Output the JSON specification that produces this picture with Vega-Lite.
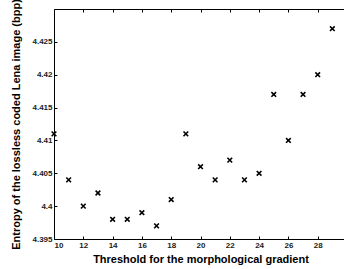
{
  "$schema": "https://vega.github.io/schema/vega-lite/v6.json",
  "autosize": "none",
  "width": 293,
  "height": 230,
  "padding": {"left": 54, "top": 9, "right": 0, "bottom": 30},
  "background": "white",
  "config": {
    "view": {"stroke": null},
    "axis": {
      "domainColor": "black",
      "domainWidth": 1,
      "tickColor": "black",
      "grid": false,
      "labelFont": "Liberation Sans",
      "labelFontSize": 8,
      "labelFontWeight": "bold",
      "labelColor": "#222",
      "titleFont": "Liberation Sans",
      "titleFontSize": 11,
      "titleFontWeight": "bold",
      "titleColor": "black"
    }
  },
  "data": {
    "values": [
      {"threshold": 10, "entropy": 4.411},
      {"threshold": 11, "entropy": 4.404},
      {"threshold": 12, "entropy": 4.400},
      {"threshold": 13, "entropy": 4.402},
      {"threshold": 14, "entropy": 4.398},
      {"threshold": 15, "entropy": 4.398},
      {"threshold": 16, "entropy": 4.399},
      {"threshold": 17, "entropy": 4.397},
      {"threshold": 18, "entropy": 4.401},
      {"threshold": 19, "entropy": 4.411},
      {"threshold": 20, "entropy": 4.406},
      {"threshold": 21, "entropy": 4.404},
      {"threshold": 22, "entropy": 4.407},
      {"threshold": 23, "entropy": 4.404},
      {"threshold": 24, "entropy": 4.405},
      {"threshold": 25, "entropy": 4.417},
      {"threshold": 26, "entropy": 4.410},
      {"threshold": 27, "entropy": 4.417},
      {"threshold": 28, "entropy": 4.420},
      {"threshold": 29, "entropy": 4.427}
    ]
  },
  "layer": [
    {
      "mark": {"type": "point", "shape": "M-1,-1L1,1M-1,1L1,-1", "size": 22, "filled": false, "stroke": "black", "strokeWidth": 1.6, "opacity": 1},
      "encoding": {
        "x": {
          "field": "threshold", "type": "quantitative",
          "scale": {"domain": [10, 30], "nice": false, "zero": false},
          "axis": {"orient": "bottom", "values": [10,12,14,16,18,20,22,24,26,28], "tickSize": -3, "labelPadding": 5, "title": "Threshold for the morphological gradient", "titlePadding": 4}
        },
        "y": {
          "field": "entropy", "type": "quantitative",
          "scale": {"domain": [4.395, 4.43], "nice": false, "zero": false},
          "axis": {"orient": "left", "values": [4.395, 4.4, 4.405, 4.41, 4.415, 4.42, 4.425], "format": "~g", "tickSize": -3, "labelPadding": 5, "title": "Entropy of the lossless coded Lena image (bpp)", "titlePadding": 10}
        }
      }
    },
    {
      "mark": {"type": "point", "opacity": 0},
      "encoding": {
        "x": {
          "field": "threshold", "type": "quantitative",
          "scale": {"domain": [10, 30], "nice": false, "zero": false},
          "axis": {"orient": "top", "values": [10,12,14,16,18,20,22,24,26,28], "tickSize": -3, "labels": false, "title": null}
        },
        "y": {
          "field": "entropy", "type": "quantitative",
          "scale": {"domain": [4.395, 4.43], "nice": false, "zero": false},
          "axis": {"orient": "right", "values": [4.395, 4.4, 4.405, 4.41, 4.415, 4.42, 4.425], "tickSize": -3, "labels": false, "title": null}
        }
      }
    }
  ],
  "resolve": {"axis": {"x": "independent", "y": "independent"}}
}
